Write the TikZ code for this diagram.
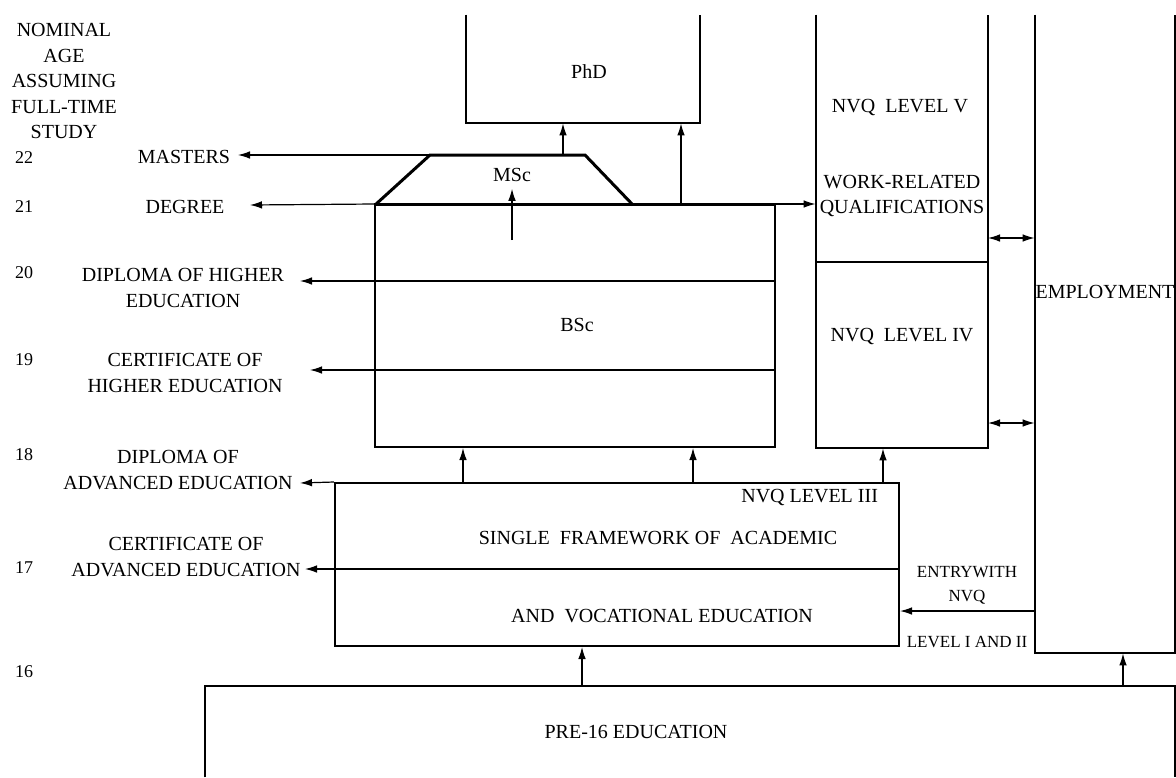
\documentclass[tikz,border=0pt]{standalone}
\usepackage{fontspec}
\setmainfont{Liberation Serif}
\usetikzlibrary{arrows.meta,positioning,fit,calc}

\begin{document}
\begin{tikzpicture}[x=0.5pt, y=-0.5pt,
        font=\fontsize{10}{12.75}\selectfont,
        box/.style={rectangle, inner sep=0pt, draw, line width=1pt},
        openbox/.style={rectangle, inner sep=0pt},
        side/.style={line width=1pt},
        heavy/.style={line width=1.5pt},
        divider/.style={line width=0.6pt},
        arr/.style={-{Latex[length=6pt,width=3.8pt]}, line width=0.6pt},
        darr/.style={{Latex[length=6pt,width=3.8pt]}-{Latex[length=6pt,width=3.8pt]}, line width=0.6pt},
        lbl/.style={align=center, inner sep=0pt},
        age/.style={font=\fontsize{9}{10}\selectfont, inner sep=0pt},
        entry/.style={font=\fontsize{8.5}{10}\selectfont, inner sep=0pt}
      ]
        \useasboundingbox (0,0) rectangle (1176,777);

        % ages down the left side
        \node[lbl] (head) at (64,81) {NOMINAL\\AGE\\ASSUMING\\FULL-TIME\\STUDY};
        \node[age] (a22) at (24,158) {22};
        \node[age] (a21) at (24,207) {21};
        \node[age] (a20) at (24,273) {20};
        \node[age] (a19) at (24,360) {19};
        \node[age] (a18) at (24,455) {18};
        \node[age] (a17) at (24,568) {17};
        \node[age] (a16) at (24,672) {16};

        % awards
        \node[lbl] (masters) at (184,157) {MASTERS};
        \node[lbl] (degree)  at (185,207) {DEGREE};
        \node[lbl] (dhe)     at (183,288) {DIPLOMA OF HIGHER\\EDUCATION};
        \node[lbl] (che)     at (185,373) {CERTIFICATE OF\\HIGHER EDUCATION};
        \node[lbl] (dae)     at (178,470) {DIPLOMA OF\\ADVANCED EDUCATION};
        \node[lbl] (cae)     at (186,557) {CERTIFICATE OF\\ADVANCED EDUCATION};
        \coordinate (tip22) at (238,155);
        \coordinate (tip21) at (250,205);
        \coordinate (tip20) at (300,281);
        \coordinate (tip19) at (310,370);
        \coordinate (tip18) at (300,483);
        \coordinate (tip17) at (305,569);

        % boxes
        \node[openbox, fit={(466,15)(700,123)}]   (phd)   {};
        \node[box,     fit={(375,205)(775,447)}]  (bsc)   {};
        \node[openbox, fit={(816,15)(988,448)}]   (nvq)   {};
        \node[openbox, fit={(1035,15)(1175,653)}] (emp)   {};
        \node[box,     fit={(335,483)(899,646)}]  (frame) {};
        \node[openbox, fit={(205,686)(1175,777)}] (pre)   {};

        \draw[side] (phd.north west) -- (phd.south west) -- (phd.south east) -- (phd.north east);
        \draw[side] (nvq.north west) -- (nvq.south west) -- (nvq.south east) -- (nvq.north east);
        \draw[side] (emp.north west) -- (emp.south west) -- (emp.south east) -- (emp.north east);
        \draw[side] (pre.south west) -- (pre.north west) -- (pre.north east) -- (pre.south east);

        % MSc on top of the BSc
        \coordinate (mscbl) at (375,205);
        \coordinate (msctl) at (430,155);
        \coordinate (msctr) at (585,155);
        \coordinate (mscbr) at (633,205);
        \draw[heavy] (mscbl) -- (msctl) -- (msctr) -- (mscbr);
        \draw[heavy] (bsc.north west) -- (bsc.north east);

        \node (phdtxt) at (589,72)  {PhD};
        \node (msc)    at (512,175) {MSc};
        \node (bsctxt) at (577,325) {BSc};
        \node (nvq5)   at (900,107) {NVQ\ \ LEVEL V};
        \node[lbl] (wrq) at (902,196) {WORK-RELATED\\QUALIFICATIONS};
        \node (nvq4)   at (902,336) {NVQ\ \ LEVEL IV};
        \node (emptxt) at (1105,292) {EMPLOYMENT};
        \node[anchor=east] (nvq3) at (885,497) {NVQ LEVEL III};
        \node (sf1)    at (658,538) {SINGLE\ \ FRAMEWORK OF\ \ ACADEMIC};
        \node (sf2)    at (662,616) {AND\ \ VOCATIONAL EDUCATION};
        \node[entry] (en1) at (967,572) {ENTRYWITH};
        \node[entry] (en2) at (967,597) {NVQ};
        \node[entry] (en3) at (967,642) {LEVEL I AND II};
        \node (pretxt) at (636,732) {PRE-16 EDUCATION};

        % inner dividers
        \coordinate (bsc20) at (775,281);
        \coordinate (bsc19) at (775,370);
        \coordinate (nvqdiv) at (816,262);
        \coordinate (framediv) at (899,569);
        \draw[divider] (nvqdiv) -- (nvqdiv -| nvq.east);

        % awards arrows
        \draw[arr] (msctl) -- (tip22);
        \draw[arr] (bsc.north west) -- (tip21);
        \draw[arr] (bsc20) -- (tip20);
        \draw[arr] (bsc19) -- (tip19);
        \draw[arr] (frame.north west) -- (tip18);
        \draw[arr] (framediv) -- (tip17);

        % progression arrows
        \coordinate (mscin) at (512,240);
        \coordinate (mscp)  at (563,155);
        \coordinate (bscp)  at (681,205);
        \coordinate (fa1)   at (463,483);
        \coordinate (fa2)   at (693,483);
        \coordinate (fa3)   at (883,483);
        \coordinate (pa1)   at (582,686);
        \coordinate (pa2)   at (1123,686);
        \coordinate (lnk5)  at (988,238);
        \coordinate (lnk4)  at (988,423);
        \coordinate (entry) at (1035,611);

        \draw[arr] (mscin) -- (msc.south);
        \draw[arr] (mscp) -- (mscp |- phd.south);
        \draw[arr] (bscp) -- (bscp |- phd.south);
        \draw[arr] (bsc.north east) -- (bsc.north east -| nvq.west);
        \draw[arr] (fa1) -- (fa1 |- bsc.south);
        \draw[arr] (fa2) -- (fa2 |- bsc.south);
        \draw[arr] (fa3) -- (fa3 |- nvq.south);
        \draw[arr] (pa1) -- (pa1 |- frame.south);
        \draw[arr] (pa2) -- (pa2 |- emp.south);
        \draw[arr] (entry) -- (entry -| frame.east);
        \draw[darr] (lnk5) -- (lnk5 -| emp.west);
        \draw[darr] (lnk4) -- (lnk4 -| emp.west);
      \end{tikzpicture}
\end{document}
